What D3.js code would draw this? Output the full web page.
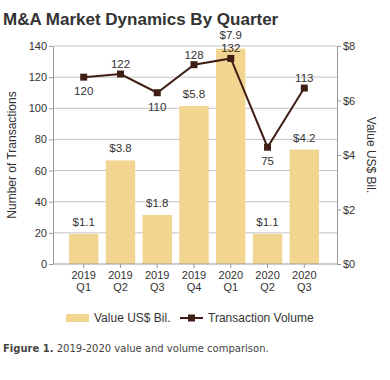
<!DOCTYPE html>
<html>
<head>
<meta charset="utf-8">
<script src="https://cdn.jsdelivr.net/npm/d3@7"></script>
<style>
  body { margin: 0; background: #fff; }
  text { font-family: "Liberation Sans", Arial, sans-serif; }
</style>
</head>
<body>
<div id="main"></div>
<script>
// data
const quarters = ['2019 Q1', '2019 Q2', '2019 Q3', '2019 Q4', '2020 Q1', '2020 Q2', '2020 Q3'];
const values = [1.1, 3.8, 1.8, 5.8, 7.9, 1.1, 4.2];          // US$ Bil.
const volumes = [120, 122, 110, 128, 132, 75, 113];          // transactions
const volumeLabelPos = ['below', 'above', 'below', 'above', 'above', 'below', 'above'];
const leftTicks = [0, 20, 40, 60, 80, 100, 120, 140];
const rightTicks = [0, 2, 4, 6, 8];

const width = 390, height = 380;
const plotLeft = 53, plotRight = 337, plotTop = 46, plotBottom = 264;

const barColor = '#f2d590', lineColor = '#3f1f15', textColor = '#333';

let svg = d3.select('#main')
    .append('svg')
        .attr('width', width)
        .attr('height', height);

const x = d3.scaleBand().domain(quarters).range([69, 319]).paddingInner(0.2);
const yLeft = d3.scaleLinear().domain([0, 140]).range([plotBottom, plotTop]);
const yRight = d3.scaleLinear().domain([0, 8]).range([plotBottom, plotTop]);

// title
svg.append('text')
    .attr('x', 3).attr('y', 25)
    .style('font-size', '17px').style('font-weight', 'bold')
    .attr('fill', '#333')
    .text('M&A Market Dynamics By Quarter');

// gridlines
svg.append('g')
    .selectAll('line')
    .data(leftTicks.slice(1))
    .enter()
    .append('line')
        .attr('x1', plotLeft).attr('x2', plotRight)
        .attr('y1', d => yLeft(d)).attr('y2', d => yLeft(d))
        .attr('stroke', '#c4c4c4').attr('stroke-width', 1);

// bars
svg.selectAll('.bar')
    .data(quarters)
    .enter()
    .append('rect')
        .attr('class', 'bar')
        .attr('x', d => x(d))
        .attr('width', x.bandwidth())
        .attr('y', (d, i) => yRight(values[i]))
        .attr('height', (d, i) => plotBottom - yRight(values[i]))
        .attr('fill', barColor);

// axes
const styleAxis = g => {
    g.selectAll('path, line').attr('stroke', '#999');
    g.selectAll('text').attr('fill', textColor).style('font-size', '11px');
};

svg.append('g')
    .attr('transform', `translate(${plotLeft},0)`)
    .call(d3.axisLeft(yLeft).tickValues(leftTicks).tickSize(4).tickSizeOuter(0).tickPadding(2))
    .call(styleAxis);

svg.append('g')
    .attr('transform', `translate(${plotRight},0)`)
    .call(d3.axisRight(yRight).tickValues(rightTicks).tickSize(4).tickSizeOuter(0).tickPadding(2)
        .tickFormat(d => '$' + d))
    .call(styleAxis);

const xAxis = svg.append('g')
    .attr('transform', `translate(0,${plotBottom})`)
    .call(d3.axisBottom(x).tickSize(4).tickSizeOuter(0).tickFormat(''));
xAxis.select('.domain').attr('d', `M${plotLeft},0H${plotRight}`);
styleAxis(xAxis);
xAxis.selectAll('.tick')
    .append('text')
        .attr('fill', textColor)
        .attr('text-anchor', 'middle')
        .style('font-size', '11px')
        .selectAll('tspan')
        .data(d => d.split(' '))
        .enter()
        .append('tspan')
            .attr('x', 0)
            .attr('y', (d, i) => 15 + i * 12)
            .text(d => d);

// axis titles
svg.append('text')
    .attr('transform', `translate(16,${(plotTop + plotBottom) / 2}) rotate(-90)`)
    .attr('text-anchor', 'middle')
    .attr('fill', textColor)
    .style('font-size', '12px')
    .text('Number of Transactions');

svg.append('text')
    .attr('transform', `translate(367,${(plotTop + plotBottom) / 2}) rotate(90)`)
    .attr('text-anchor', 'middle')
    .attr('fill', textColor)
    .style('font-size', '12px')
    .text('Value US$ Bil.');

// bar labels (the tallest bar's label sits a little higher to clear the volume label)
svg.selectAll('.bar-label')
    .data(quarters)
    .enter()
    .append('text')
        .attr('class', 'bar-label')
        .attr('x', d => x(d) + x.bandwidth() / 2)
        .attr('y', (d, i) => yRight(values[i]) - (i === 4 ? 10 : 8))
        .attr('text-anchor', 'middle')
        .attr('fill', textColor)
        .style('font-size', '11.5px')
        .text((d, i) => '$' + values[i].toFixed(1));

// line
const cx = d => x(d) + x.bandwidth() / 2;
const line = d3.line()
    .x(d => cx(d))
    .y((d, i) => yLeft(volumes[i]));

svg.append('path')
    .datum(quarters)
    .attr('d', line)
    .attr('fill', 'none')
    .attr('stroke', lineColor)
    .attr('stroke-width', 2);

svg.selectAll('.marker')
    .data(quarters)
    .enter()
    .append('rect')
        .attr('class', 'marker')
        .attr('x', d => cx(d) - 3.5)
        .attr('y', (d, i) => yLeft(volumes[i]) - 3.5)
        .attr('width', 7).attr('height', 7)
        .attr('fill', lineColor);

svg.selectAll('.vol-label')
    .data(quarters)
    .enter()
    .append('text')
        .attr('class', 'vol-label')
        .attr('x', d => cx(d))
        .attr('y', (d, i) => yLeft(volumes[i]) + (volumeLabelPos[i] === 'above' ? -6 : 18))
        .attr('text-anchor', 'middle')
        .attr('fill', textColor)
        .style('font-size', '11.5px')
        .text((d, i) => volumes[i]);

// legend
const legend = svg.append('g').attr('transform', 'translate(0,318)');
legend.append('rect')
    .attr('x', 66).attr('y', -4).attr('width', 23).attr('height', 8)
    .attr('fill', barColor);
legend.append('text')
    .attr('x', 94).attr('y', 4)
    .attr('fill', textColor).style('font-size', '12px')
    .text('Value US$ Bil.');
legend.append('line')
    .attr('x1', 180).attr('x2', 203).attr('y1', 0).attr('y2', 0)
    .attr('stroke', lineColor).attr('stroke-width', 2);
legend.append('rect')
    .attr('x', 188).attr('y', -3.5).attr('width', 7).attr('height', 7)
    .attr('fill', lineColor);
legend.append('text')
    .attr('x', 208).attr('y', 4)
    .attr('fill', textColor).style('font-size', '12px')
    .text('Transaction Volume');

// caption
const caption = svg.append('text')
    .attr('x', 3).attr('y', 352)
    .attr('fill', '#444')
    .style('font-family', '"DejaVu Sans", Verdana, sans-serif')
    .style('font-size', '10px');
caption.append('tspan').style('font-weight', 'bold').text('Figure 1.');
caption.append('tspan').text(' 2019-2020 value and volume comparison.');
</script>
</body>
</html>
